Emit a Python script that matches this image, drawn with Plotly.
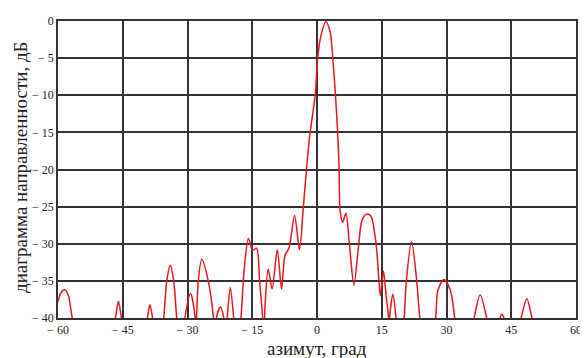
import plotly.graph_objects as go

# azimuth (deg) and pattern level (dB)
azimuth = [-60, -59.3, -58.5, -57.7, -56.7, -51.7,
           -46.7, -46.0, -45.3, -42.5,
           -39.3, -38.7, -38.1, -36.8,
           -35.5, -34.8, -34.0, -33.2, -32.5, -31.5,
           -30.6, -29.3, -28.2, -28.05,
           -27.9, -27.5, -26.7, -25.2, -24.0, -23.7,
           -23.3, -22.4, -21.6, -21.2,
           -20.8, -20.1, -19.3, -18.5,
           -17.6, -16.8, -15.9, -14.9, -14.0, -13.3, -12.6, -12.4,
           -12.0, -11.3, -10.4, -9.2, -8.2, -7.4, -6.5, -5.2, -4.05,
           -3.2, -2.4, -1.8, -1.0, -0.4, 0.15, 0.76, 2.06, 3.05, 3.66,
           4.27, 4.8, 5.1, 5.35, 5.95, 6.7, 7.5, 8.55, 9.5, 10.3, 11.0,
           11.8, 12.6, 13.7, 14.3, 14.7, 15.4, 16.0, 16.6, 16.7,
           16.8, 17.6, 18.3, 19.2,
           20.2, 20.7, 21.9, 23.1, 23.8, 25.6,
           27.5, 28.0, 29.4, 30.9, 31.9, 34.1,
           36.4, 37.8, 39.3, 40.9,
           42.4, 42.8, 43.3, 45.3,
           47.3, 48.6, 49.8, 55, 60]
level_db = [-37.8, -36.6, -36.2, -36.8, -40, -55,
            -40, -37.75, -40, -50,
            -40, -38.2, -40, -46,
            -40, -35, -32.9, -35, -40, -46,
            -40, -36.7, -40, -42,
            -40, -35, -32.1, -35, -40, -44,
            -40, -38.5, -40, -43,
            -40, -35.9, -40, -46,
            -40, -33, -29.3, -30.9, -30.6, -35, -40, -44,
            -38, -33.4, -36.1, -30.8, -36.1, -31.5, -30.6, -26.2, -30.8,
            -25.3, -19.8, -16.0, -12.5, -9.9, -5.06, -2.4, -0.1, -1.5, -5.06,
            -9.9, -15.2, -19.5, -25.5, -27.1, -25.9, -30, -35.6, -31, -27.1, -26.2,
            -26.0, -26.4, -30.1, -34.5, -37.0, -33.7, -37, -40, -42,
            -40, -36.8, -40, -48,
            -40, -35, -29.7, -35, -40, -50,
            -40, -36.3, -34.8, -36.3, -40, -50,
            -40, -36.9, -40, -46,
            -40, -39.5, -40, -46,
            -40, -37.4, -40, -55, -50]

x_ticks = [-60, -45, -30, -15, 0, 15, 30, 45, 60]
x_tick_text = ["− 60", "− 45", "− 30", "− 15", "0", "15", "30", "45", "60"]
y_ticks = [0, -5, -10, -15, -20, -25, -30, -35, -40]
y_tick_text = ["0", "− 5", "− 10", "− 15", "− 20", "− 25", "− 30", "− 35", "− 40"]

x_title = "азимут, град"
y_title = "диаграмма направленности, дБ"

fig = go.Figure()
fig.add_trace(go.Scatter(
    x=azimuth, y=level_db, mode="lines",
    line=dict(color="#e8161e", width=1.5, shape="spline", smoothing=0.8),
    hoverinfo="skip", showlegend=False))

axis_common = dict(showgrid=True, gridcolor="#333333", gridwidth=1.5,
                   showline=True, linecolor="#333333", linewidth=1.5, mirror=True,
                   zeroline=False, ticks="",
                   tickfont=dict(family="Liberation Serif", size=12, color="#222"))

fig.update_xaxes(range=[-60, 60], tickvals=x_ticks, ticktext=x_tick_text, **axis_common)
fig.update_yaxes(range=[-40, 0], tickvals=y_ticks, ticktext=y_tick_text, **axis_common)

# the page body has an 8px margin; the figure is sized to compensate
fig.update_layout(
    width=580, height=350,
    margin=dict(l=50, r=6, t=7, b=40),
    plot_bgcolor="white", paper_bgcolor="white",
    annotations=[
        dict(text=x_title, xref="paper", yref="paper", x=0.5, y=0, yshift=-30,
             showarrow=False, xanchor="center", yanchor="middle", borderpad=0,
             font=dict(family="Liberation Serif", size=19, color="#222")),
        dict(text=y_title, xref="paper", yref="paper", x=0, xshift=-38, y=0.505,
             showarrow=False, xanchor="center", yanchor="middle", textangle=-90,
             font=dict(family="Liberation Serif", size=19, color="#222")),
    ],
)

fig.write_html("out.html")
